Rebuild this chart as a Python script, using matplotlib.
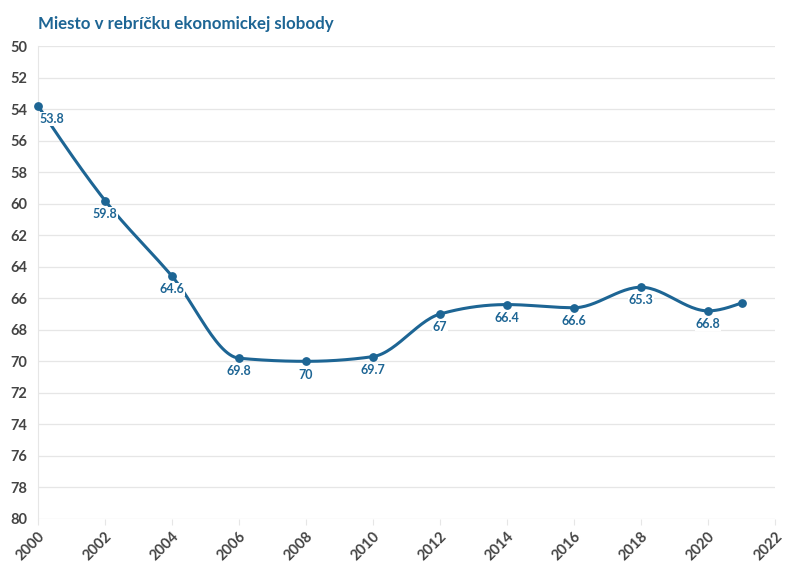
import numpy as np
import matplotlib
matplotlib.use("Agg")
import matplotlib.pyplot as plt

# data
years = [2000, 2002, 2004, 2006, 2008, 2010, 2012, 2014, 2016, 2018, 2020, 2021]
rank = [53.8, 59.8, 64.6, 69.8, 70, 69.7, 67, 66.4, 66.6, 65.3, 66.8, 66.3]
labels = ["53.8", "59.8", "64.6", "69.8", "70", "69.7", "67", "66.4", "66.6", "65.3", "66.8", ""]

blue = "#1d6594"
grey = "#444444"

plt.rcParams['font.family'] = ['Lato', 'DejaVu Sans']


def monotone_x(x, y, n=30):
    # d3 curveMonotoneX style smoothing, only for drawing the line
    x = np.asarray(x, float)
    y = np.asarray(y, float)
    h = np.diff(x)
    s = np.diff(y) / h
    t = np.zeros(len(x))
    for i in range(1, len(x) - 1):
        s0, s1 = s[i - 1], s[i]
        p = (s0 * h[i] + s1 * h[i - 1]) / (h[i - 1] + h[i])
        t[i] = (np.sign(s0) + np.sign(s1)) * min(abs(s0), abs(s1), 0.5 * abs(p)) or 0.0
    t[0] = (3 * s[0] - t[1]) / 2
    t[-1] = (3 * s[-1] - t[-2]) / 2
    xs, ys = [], []
    for i in range(len(x) - 1):
        u = np.linspace(0, 1, n)
        h00 = 2 * u**3 - 3 * u**2 + 1
        h10 = u**3 - 2 * u**2 + u
        h01 = -2 * u**3 + 3 * u**2
        h11 = u**3 - u**2
        xs.append(x[i] + u * h[i])
        ys.append(h00 * y[i] + h10 * h[i] * t[i] + h01 * y[i + 1] + h11 * h[i] * t[i + 1])
    return np.concatenate(xs), np.concatenate(ys)


fig = plt.figure(figsize=(7.96, 5.75), dpi=100)
ax = fig.add_axes([38 / 796, 1 - 519 / 575, (775 - 38) / 796, (519 - 46) / 575])

sx, sy = monotone_x(years, rank)
ax.plot(sx, sy, color=blue, lw=2.2, zorder=3, clip_on=False)
ax.scatter(years, rank, s=28, color=blue, zorder=4, clip_on=False)

for i, (x, y, lab) in enumerate(zip(years, rank, labels)):
    if not lab:
        continue
    ha = "left" if i == 0 else "center"
    ax.annotate(lab, (x, y), xytext=(1 if i == 0 else 0, -9.5), textcoords="offset points",
                ha=ha, va="center", color=blue, fontsize=9, fontweight="bold", zorder=5,
                bbox=dict(boxstyle="square,pad=0.05", fc="white", ec="none"))

ax.set_xlim(2000, 2022)
ax.set_ylim(80, 50)
ax.set_xticks(range(2000, 2023, 2))
ax.set_yticks(range(50, 81, 2))
ax.grid(axis="y", color="#e6e6e6", lw=0.9)
ax.set_axisbelow(True)
for sp in ["top", "right", "bottom"]:
    ax.spines[sp].set_visible(False)
ax.spines["left"].set_color("#e6e6e6")
ax.tick_params(axis="both", length=4, color="#e6e6e6", labelcolor=grey, labelsize=10.5)
ax.tick_params(axis="y", length=0, pad=8)
for lab in ax.get_yticklabels() + ax.get_xticklabels():
    lab.set_fontweight("bold")
plt.setp(ax.get_xticklabels(), rotation=45, ha="right", rotation_mode="anchor")

fig.text(38 / 796, 1 - 24 / 575, "Miesto v rebríčku ekonomickej slobody",
         color=blue, fontsize=12.2, fontweight="bold", va="center")

fig.savefig("out.png", dpi=100)
